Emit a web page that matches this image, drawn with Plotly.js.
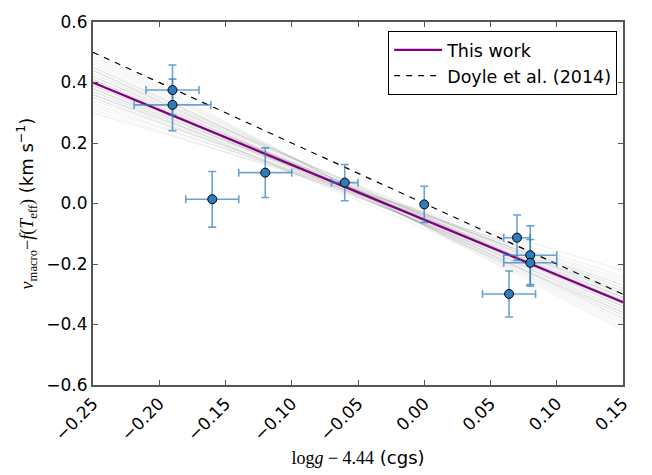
<!DOCTYPE html>
<html>
<head>
<meta charset="utf-8">
<script src="https://cdn.plot.ly/plotly-3.0.1.min.js"></script>
<style>html,body{margin:0;padding:0;background:#fff;}</style>
</head>
<body>
<div id="chart" style="width:652px;height:475px;"></div>
<script>
// Measured data points
const starX   = [-0.19, -0.19, -0.16, -0.12, -0.06, 0.00, 0.07, 0.08, 0.08, 0.064];
const starY   = [0.375, 0.326, 0.014, 0.102, 0.069, -0.003, -0.113, -0.171, -0.196, -0.299];
const starXerr= [0.02, 0.029, 0.02, 0.02, 0.01, 0.0, 0.01, 0.02, 0.02, 0.02];
const starYerr= [0.083, 0.085, 0.092, 0.082, 0.06, 0.06, 0.075, 0.097, 0.077, 0.076];

// Fit lines (end points at axis limits)
const lineX = [-0.25, 0.15];
const thisWorkY = [0.40, -0.326];
const doyleY = [0.50, -0.30];

// MCMC sample lines: value at left edge and right edge
const sampleLeft  = [0.40,0.42,0.38,0.44,0.36,0.41,0.39,0.46,0.34,0.43,0.37,0.45,0.35,0.40,0.48,0.32,0.42,0.38,0.41,0.39,0.47,0.33,0.44,0.36,0.50,0.30,0.43,0.37,0.40,0.45,0.35,0.42,0.38,0.49,0.31,0.41,0.39,0.44,0.36,0.40];
const sampleRight = [-0.33,-0.35,-0.30,-0.37,-0.28,-0.32,-0.34,-0.39,-0.26,-0.31,-0.33,-0.36,-0.29,-0.30,-0.40,-0.24,-0.34,-0.31,-0.36,-0.29,-0.38,-0.27,-0.33,-0.32,-0.42,-0.22,-0.37,-0.28,-0.35,-0.34,-0.31,-0.30,-0.36,-0.41,-0.25,-0.33,-0.31,-0.38,-0.27,-0.32];

const xTicks = [-0.25,-0.20,-0.15,-0.10,-0.05,0.00,0.05,0.10,0.15];
const xTickText = ['\u22120.25','\u22120.20','\u22120.15','\u22120.10','\u22120.05','0.00','0.05','0.10','0.15'];
const yTicks = [-0.6,-0.4,-0.2,0.0,0.2,0.4,0.6];
const yTickText = ['\u22120.6','\u22120.4','\u22120.2','0.0','0.2','0.4','0.6'];

const traces = [];
for (let i = 0; i < sampleLeft.length; i++) {
  traces.push({
    x: lineX, y: [sampleLeft[i], sampleRight[i]],
    mode: 'lines', type: 'scatter', showlegend: false, hoverinfo: 'skip',
    line: {color: 'rgba(110,110,110,0.09)', width: 1.2}
  });
}
traces.push({
  x: lineX, y: thisWorkY, mode: 'lines', type: 'scatter', name: 'This work',
  legendgroup: 'a',
  line: {color: '#800080', width: 2.2}
});
traces.push({
  x: lineX, y: doyleY, mode: 'lines', type: 'scatter', name: 'Doyle et al. (2014)',
  legendgroup: 'b',
  line: {color: '#000000', width: 1.2, dash: '6px,6px'}
});
traces.push({
  x: starX, y: starY, mode: 'markers', type: 'scatter', showlegend: false,
  marker: {color: '#2e7bbd', size: 9, line: {color: '#000', width: 1}},
  error_x: {type: 'data', array: starXerr, visible: true, color: 'rgba(46,123,189,0.7)', thickness: 1.6, width: 4},
  error_y: {type: 'data', array: starYerr, visible: true, color: 'rgba(46,123,189,0.7)', thickness: 1.6, width: 4}
});

const serif = "font-family:'Liberation Serif',serif";
const layout = {
  width: 652, height: 475,
  margin: {l: 93, r: 29, t: 22, b: 90},
  paper_bgcolor: '#fff', plot_bgcolor: '#fff',
  font: {family: 'DejaVu Sans, sans-serif', color: '#000', size: 17},
  showlegend: true,
  legend: {
    x: 0.989, y: 0.975, xanchor: 'right', yanchor: 'top',
    bgcolor: '#fff', bordercolor: '#000', borderwidth: 1,
    font: {family: 'DejaVu Sans, sans-serif', size: 17.5, color: '#000'},
    traceorder: 'grouped', tracegroupgap: 0, itemwidth: 48
  },
  xaxis: {
    range: [-0.25, 0.15], tickmode: 'array', tickvals: xTicks, ticktext: xTickText,
    tickangle: -45, ticks: 'inside', ticklen: 5, tickwidth: 1, tickcolor: '#555',
    showline: true, linecolor: '#555', linewidth: 2, mirror: 'ticks',
    showgrid: false, zeroline: false,
    tickfont: {size: 17},
    title: {text: '<span style="' + serif + '">log<i>g</i> \u2212 4.44</span> (cgs)', font: {size: 18}, standoff: 8}
  },
  yaxis: {
    range: [-0.6, 0.6], tickmode: 'array', tickvals: yTicks, ticktext: yTickText,
    ticks: 'inside', ticklen: 5, tickwidth: 1, tickcolor: '#555',
    showline: true, linecolor: '#555', linewidth: 2, mirror: 'ticks',
    showgrid: false, zeroline: false,
    tickfont: {size: 17},
    title: {text: '<span style="' + serif + '"><i>v</i><sub>macro</sub>\u2212<i>f</i>(<i>T</i><sub>eff</sub>)</span> (km s<sup>\u22121</sup>)', font: {size: 18}, standoff: 8}
  }
};

Plotly.newPlot('chart', traces, layout, {staticPlot: true, displayModeBar: false});
</script>
</body>
</html>
